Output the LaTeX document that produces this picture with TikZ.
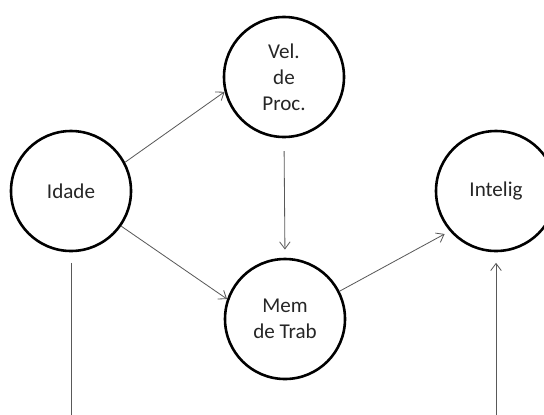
\documentclass[tikz,border=0pt]{standalone}
\usepackage{fontspec}
\setmainfont{Carlito}
\usetikzlibrary{arrows.meta}

\begin{document}
\begin{tikzpicture}[x=0.03cm,y=-0.03cm,
  var/.style={circle,draw,line width=2.2pt,minimum size=3.6cm,inner sep=0pt,align=center,
    text=black!85,font=\fontsize{18}{22}\selectfont},
  link/.style={draw=black!65,line width=0.7pt},
  arr/.style={link,-{Straight Barb[length=6pt,width=9pt]}}]
\clip (0,0) rectangle (544,414);

\node[var] (idade) at (71,191) {Idade};
\node[var] (vel) at (284,77) {Vel.\\de\\Proc.};
\node[var] (mem) at (285,319) {Mem\\de Trab};
\node[var] (intelig) at (496,191) {Intelig};
\coordinate (lbot) at (71,420);
\coordinate (rbot) at (496,420);

\draw[arr] (idade.28) -- (vel.194);
\draw[arr] (idade.-35) -- (mem.161);
\draw[arr,shorten <=11pt,shorten >=7pt] (vel.south) -- (mem.north);
\draw[arr,shorten >=5pt] (mem.27) -- (intelig.221);
\draw[link,shorten <=9pt] (idade.south) -- (lbot);
\draw[arr,shorten >=9pt] (rbot) -- (intelig.south);
\end{tikzpicture}
\end{document}
